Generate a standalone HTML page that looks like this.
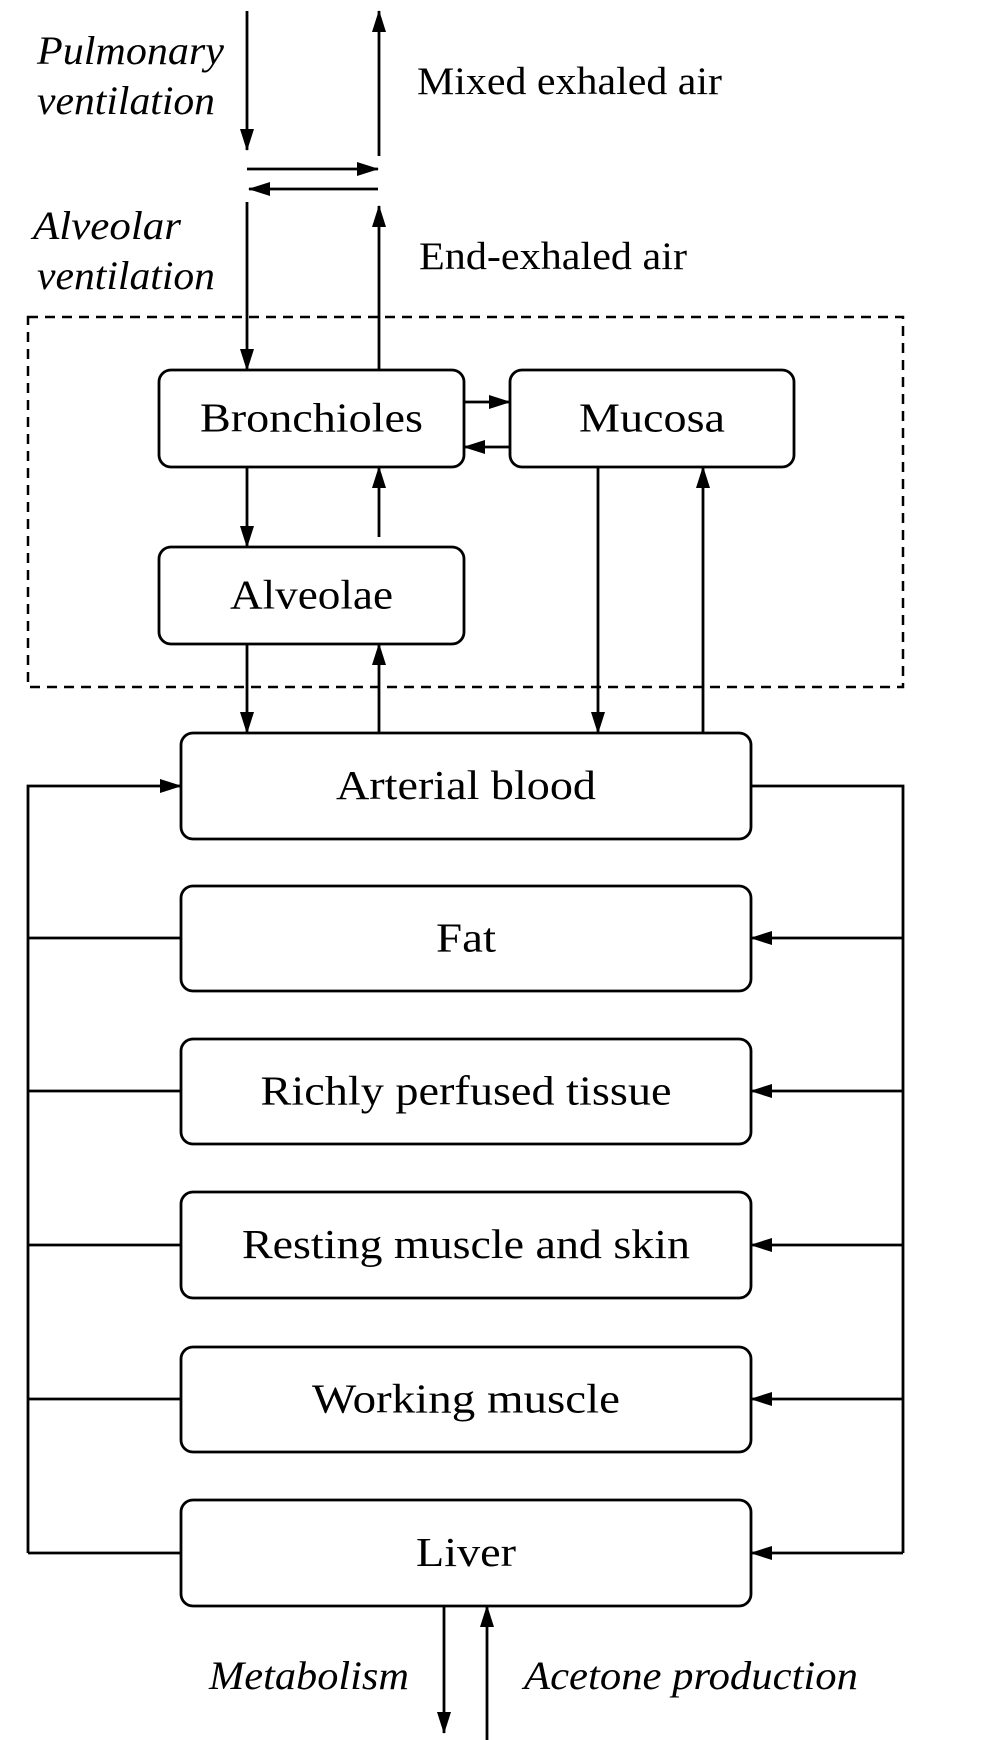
<!DOCTYPE html>
<html><head><meta charset="utf-8"><style>
html,body{margin:0;padding:0;background:#fff;}
svg{display:block;}
text{font-family:"Liberation Serif",serif;fill:#000;}
.it{font-style:italic;}
.box{fill:#fff;stroke:#000;stroke-width:2.8;}
.ln{stroke:#000;stroke-width:2.8;fill:none;}
</style></head><body>
<svg width="1006" height="1740" viewBox="0 0 1006 1740">
<defs>
<marker id="ah" viewBox="0 0 22 14" refX="21" refY="7" markerWidth="22" markerHeight="14" markerUnits="userSpaceOnUse" orient="auto">
<path d="M0,0 L22,7 L0,14 z" fill="#000"/>
</marker>
</defs>
<g id="arrows"></g>

<text class="it" x="37" y="64" font-size="40" textLength="187" lengthAdjust="spacingAndGlyphs">Pulmonary</text>
<text class="it" x="37" y="114" font-size="40" textLength="178" lengthAdjust="spacingAndGlyphs">ventilation</text>
<text class="it" x="33" y="239" font-size="40" textLength="148" lengthAdjust="spacingAndGlyphs">Alveolar</text>
<text class="it" x="37" y="289" font-size="40" textLength="178" lengthAdjust="spacingAndGlyphs">ventilation</text>
<text x="417" y="94" font-size="39" textLength="305" lengthAdjust="spacingAndGlyphs">Mixed exhaled air</text>
<text x="419" y="269" font-size="39" textLength="268" lengthAdjust="spacingAndGlyphs">End-exhaled air</text>

<rect x="28" y="317" width="875" height="370" fill="none" stroke="#000" stroke-width="2.5" stroke-dasharray="10,7"/>

<g id="boxes"></g>

<text class="it" x="209" y="1689" font-size="40" textLength="200" lengthAdjust="spacingAndGlyphs">Metabolism</text>
<text class="it" x="524" y="1689" font-size="40" textLength="334" lengthAdjust="spacingAndGlyphs">Acetone production</text>
</svg>
<script>
const NS='http://www.w3.org/2000/svg';
const boxNames=['Bronchioles','Mucosa','Alveolae','Arterial blood','Fat','Richly perfused tissue','Resting muscle and skin','Working muscle','Liver'];
const boxG=document.getElementById('boxes');
const boxGeo=[[159,370,305,97],[510,370,284,97],[159,547,305,97],[181,733,570,106],[181,886,570,105],[181,1039,570,105],[181,1192,570,106],[181,1347,570,105],[181,1500,570,106]];
const boxTextLen=[223,146,163,260,60,411,448,308,100];
boxNames.forEach((n,i)=>{
  const [x,y,w,h]=boxGeo[i];
  const g=document.createElementNS(NS,'g');
  
  
  const r=document.createElementNS(NS,'rect');
  r.setAttribute('x',x);r.setAttribute('y',y);r.setAttribute('width',w);r.setAttribute('height',h);
  r.setAttribute('rx',12);r.setAttribute('class','box');
  g.appendChild(r);
  const t=document.createElementNS(NS,'text');
  t.setAttribute('x',x+w/2);t.setAttribute('y',y+h/2+13);
  t.setAttribute('text-anchor','middle');t.setAttribute('font-size','41');
  t.setAttribute('textLength',boxTextLen[i]);
  t.setAttribute('lengthAdjust','spacingAndGlyphs');
  t.textContent=n;
  g.appendChild(t);
  boxG.appendChild(g);
});
const aG=document.getElementById('arrows');
function seg(pts,arrow,name){
  const p=document.createElementNS(NS,'polyline');
  p.setAttribute('points',pts.map(q=>q.join(',')).join(' '));
  p.setAttribute('class','ln');
  if(arrow)p.setAttribute('marker-end','url(#ah)');
  
  
  aG.appendChild(p);
}
seg([[247,11],[247,150]],1,'pulmonary-in-arrow');
seg([[379,156],[379,11]],1,'mixed-exhaled-arrow');
seg([[247,169],[378,169]],1,'exchange-right-arrow');
seg([[378,189],[249,189]],1,'exchange-left-arrow');
seg([[247,202],[247,370]],1,'alveolar-in-arrow');
seg([[379,370],[379,206]],1,'end-exhaled-arrow');
seg([[464,402],[510,402]],1,'bronchioles-to-mucosa-arrow');
seg([[510,447],[464,447]],1,'mucosa-to-bronchioles-arrow');
seg([[247,467],[247,547]],1,'bronchioles-to-alveolae-arrow');
seg([[379,537],[379,467]],1,'alveolae-to-bronchioles-arrow');
seg([[247,644],[247,733]],1,'alveolae-to-blood-arrow');
seg([[379,733],[379,644]],1,'blood-to-alveolae-arrow');
seg([[598,467],[598,733]],1,'mucosa-to-blood-arrow');
seg([[703,733],[703,467]],1,'blood-to-mucosa-arrow');
const tissueY=[938,1091,1245,1399,1553];
const tissueNames=['fat','richly-perfused','resting-muscle','working-muscle','liver'];
seg([[28,1553],[28,786],[181,786]],1,'venous-return-arrow');
seg([[751,786],[903,786],[903,1553]],0,'arterial-supply-line');
tissueY.forEach((y,i)=>{
  seg([[181,y],[28,y]],0,tissueNames[i]+'-venous-line');
  seg([[903,y],[751,y]],1,tissueNames[i]+'-arterial-arrow');
});
seg([[444,1606],[444,1733]],1,'metabolism-arrow');
seg([[487,1740],[487,1606]],1,'acetone-production-arrow');
</script>
</body></html>
